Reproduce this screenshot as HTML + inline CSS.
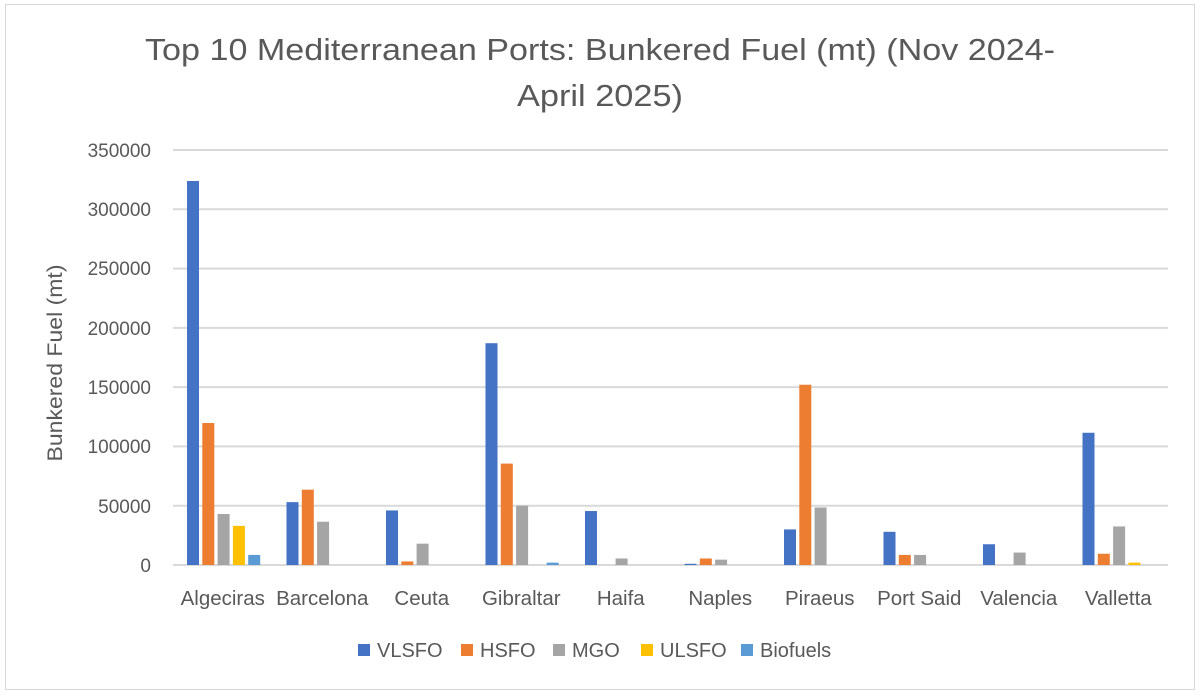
<!DOCTYPE html>
<html><head><meta charset="utf-8"><style>
html,body{margin:0;padding:0;background:#fff;}
svg{display:block;font-family:"Liberation Sans",Calibri,sans-serif;}
</style></head><body>
<svg width="1200" height="696" viewBox="0 0 1200 696" xmlns="http://www.w3.org/2000/svg">
<rect x="0" y="0" width="1200" height="696" fill="#fff"/>
<rect x="5.5" y="4.5" width="1189" height="685" fill="none" stroke="#d9d9d9" stroke-width="1"/>
<text x="145" y="60" textLength="910" lengthAdjust="spacingAndGlyphs" font-size="31" fill="#595959">Top 10 Mediterranean Ports: Bunkered Fuel (mt) (Nov 2024-</text>
<text x="517" y="106" textLength="166" lengthAdjust="spacingAndGlyphs" font-size="31" fill="#595959">April 2025)</text>
<g stroke="#d9d9d9" stroke-width="2">
<line x1="173" x2="1168" y1="150" y2="150"/><line x1="173" x2="1168" y1="209.3" y2="209.3"/>
<line x1="173" x2="1168" y1="268.6" y2="268.6"/><line x1="173" x2="1168" y1="327.9" y2="327.9"/>
<line x1="173" x2="1168" y1="387.1" y2="387.1"/><line x1="173" x2="1168" y1="446.4" y2="446.4"/>
<line x1="173" x2="1168" y1="505.7" y2="505.7"/><line x1="173" x2="1168" y1="565" y2="565"/>
</g>
<g font-size="19" fill="#595959" text-anchor="end">
<text x="151" y="157">350000</text><text x="151" y="216">300000</text><text x="151" y="275">250000</text>
<text x="151" y="335">200000</text><text x="151" y="394">150000</text><text x="151" y="453">100000</text>
<text x="151" y="513">50000</text><text x="151" y="572">0</text>
</g>
<text transform="translate(62,363) rotate(-90)" text-anchor="middle" font-size="21" textLength="197" lengthAdjust="spacingAndGlyphs" fill="#595959">Bunkered Fuel (mt)</text>
<g id="bars"></g>
<g font-size="20.5" fill="#595959" text-anchor="middle" id="cats"></g>
<g font-size="20" fill="#595959">
<rect x="358" y="644" width="12" height="12" fill="#4472c4"/><text x="377" y="657">VLSFO</text>
<rect x="461" y="644" width="12" height="12" fill="#ed7d31"/><text x="480" y="657">HSFO</text>
<rect x="553" y="644" width="12" height="12" fill="#a5a5a5"/><text x="572" y="657">MGO</text>
<rect x="641" y="644" width="12" height="12" fill="#ffc000"/><text x="660" y="657">ULSFO</text>
<rect x="741" y="644" width="12" height="12" fill="#5b9bd5"/><text x="760" y="657">Biofuels</text>
</g>
<script>
var cats=["Algeciras","Barcelona","Ceuta","Gibraltar","Haifa","Naples","Piraeus","Port Said","Valencia","Valletta"];
var data=[[323800,119700,43000,33000,8500],[53000,63500,36500,0,0],[46000,3000,18000,0,0],[187000,85500,50000,0,2000],[45500,0,5500,0,0],[1000,5500,4500,0,0],[30000,152000,48500,0,0],[28000,8500,8500,0,0],[17500,0,10500,0,0],[111500,9500,32500,2000,0]];
var cols=["#4472c4","#ed7d31","#a5a5a5","#ffc000","#5b9bd5"];
var ns="http://www.w3.org/2000/svg",b=document.getElementById("bars"),c=document.getElementById("cats");
for(var i=0;i<10;i++){var x0=173+i*99.5;
for(var j=0;j<5;j++){var v=data[i][j];if(!v)continue;var h=v*0.001186;var r=document.createElementNS(ns,"rect");
r.setAttribute("x",x0+14+j*15.3);r.setAttribute("width",12);r.setAttribute("y",565-h);r.setAttribute("height",h);r.setAttribute("fill",cols[j]);b.appendChild(r);}
var t=document.createElementNS(ns,"text");t.setAttribute("x",x0+49.75);t.setAttribute("y",605);t.textContent=cats[i];c.appendChild(t);}
</script>
</svg>
</body></html>
